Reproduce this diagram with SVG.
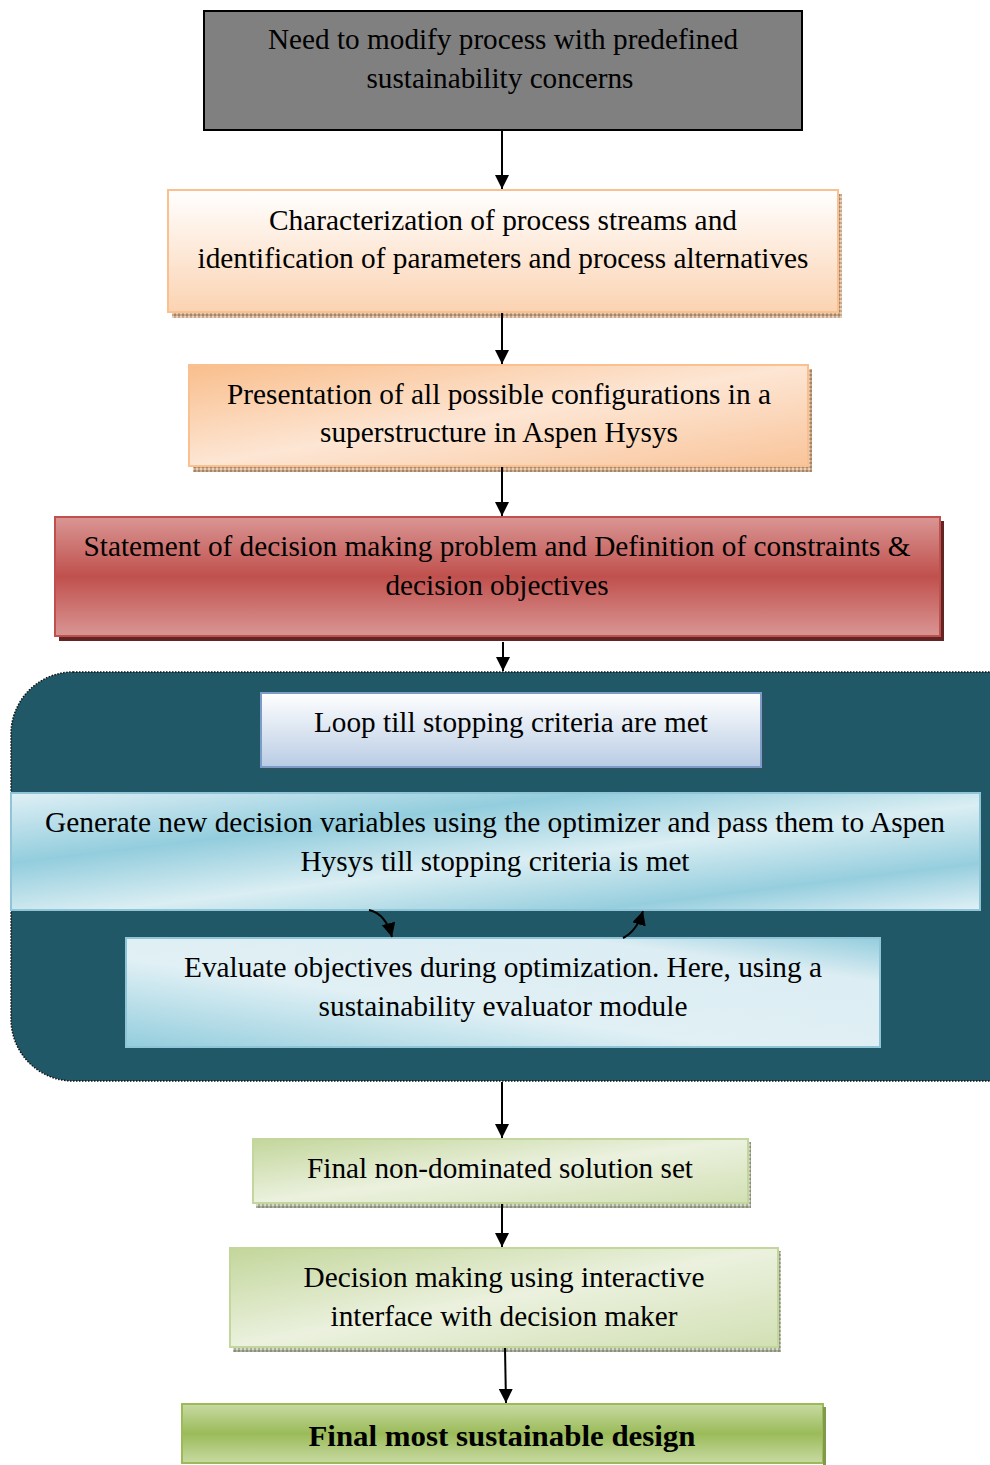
<svg xmlns="http://www.w3.org/2000/svg" width="990" height="1465" viewBox="0 0 990 1465">
<defs>
<style>
text{font-size:29px;fill:#000;text-anchor:middle}
.conn{stroke:#000;stroke-width:2;fill:none}
</style>
<marker id="ah2" viewBox="0 0 10 10" refX="10" refY="5" markerWidth="14" markerHeight="14" markerUnits="userSpaceOnUse" orient="auto"><path d="M0,0 L10,5 L0,10 z" fill="#000"/></marker>
<pattern id="shTan" width="4" height="4" patternUnits="userSpaceOnUse"><rect width="4" height="4" fill="#c9a98a"/><rect width="2" height="2" fill="#e6d0bb"/><rect x="2" y="2" width="2" height="2" fill="#a88466"/></pattern>
<pattern id="shGrn" width="4" height="4" patternUnits="userSpaceOnUse"><rect width="4" height="4" fill="#a9ae9a"/><rect width="2" height="2" fill="#d6dacb"/><rect x="2" y="2" width="2" height="2" fill="#8a8f7c"/></pattern>
<linearGradient id="gPeach1" x1="0" y1="0" x2="0" y2="1"><stop offset="0" stop-color="#ffffff"/><stop offset="1" stop-color="#fbd3b2"/></linearGradient>
<linearGradient id="gPeach2" x1="0" y1="0" x2="1" y2="1"><stop offset="0" stop-color="#f9be8c"/><stop offset="0.5" stop-color="#fde6d4"/><stop offset="1" stop-color="#f9c49a"/></linearGradient>
<linearGradient id="gRed" x1="0" y1="0" x2="0" y2="1"><stop offset="0" stop-color="#d99694"/><stop offset="0.5" stop-color="#c0504d"/><stop offset="1" stop-color="#d99694"/></linearGradient>
<linearGradient id="gLoop" x1="0" y1="0" x2="0" y2="1"><stop offset="0" stop-color="#ffffff"/><stop offset="1" stop-color="#b9cce4"/></linearGradient>
<linearGradient id="gBlue" x1="0" y1="0" x2="1" y2="1"><stop offset="0" stop-color="#e0f0f6"/><stop offset="0.3" stop-color="#93cddd"/><stop offset="0.55" stop-color="#daeef3"/><stop offset="0.8" stop-color="#96cede"/><stop offset="1" stop-color="#e1f1f6"/></linearGradient>
<linearGradient id="gBlue2" x1="0" y1="1" x2="1" y2="0"><stop offset="0" stop-color="#93cddd"/><stop offset="0.4" stop-color="#e0f0f5"/><stop offset="0.8" stop-color="#dcedf3"/><stop offset="1" stop-color="#93cddd"/></linearGradient>
<linearGradient id="gGreen" x1="0" y1="0" x2="1" y2="1"><stop offset="0" stop-color="#c3d69b"/><stop offset="0.5" stop-color="#ebf1de"/><stop offset="1" stop-color="#d2e0b4"/></linearGradient>
<linearGradient id="gGreen2" x1="0" y1="0" x2="0" y2="1"><stop offset="0" stop-color="#c8daa3"/><stop offset="0.5" stop-color="#9bbb59"/><stop offset="1" stop-color="#c8daa3"/></linearGradient>
</defs>

<g font-family="'Liberation Serif', 'Times New Roman', serif">
<g id="n1">
<rect x="204" y="11" width="598" height="119" fill="#808080" stroke="#000" stroke-width="2"/>
<text x="503" y="49" textLength="470" lengthAdjust="spacingAndGlyphs">Need to modify process with predefined</text>
<text x="500" y="88" textLength="267" lengthAdjust="spacingAndGlyphs">sustainability concerns</text>
</g>

<g id="n2">
<rect x="172" y="194" width="670" height="124" fill="url(#shTan)"/>
<rect x="168" y="190" width="670" height="122" fill="url(#gPeach1)" stroke="#fac090" stroke-width="2"/>
<text x="503" y="230" textLength="468" lengthAdjust="spacingAndGlyphs">Characterization of process streams and</text>
<text x="503" y="268" textLength="611" lengthAdjust="spacingAndGlyphs">identification of parameters and process alternatives</text>
</g>

<g id="n3">
<rect x="193" y="369" width="619" height="103" fill="url(#shTan)"/>
<rect x="189" y="365" width="619" height="101" fill="url(#gPeach2)" stroke="#fac090" stroke-width="2"/>
<text x="499" y="404" textLength="544" lengthAdjust="spacingAndGlyphs">Presentation of all possible configurations in a</text>
<text x="499" y="442" textLength="358" lengthAdjust="spacingAndGlyphs">superstructure in Aspen Hysys</text>
</g>

<g id="n4">
<rect x="59" y="521" width="885" height="120" fill="#632523"/>
<rect x="55" y="517" width="885" height="119" fill="url(#gRed)" stroke="#c0504d" stroke-width="2"/>
<text x="497" y="556" textLength="827" lengthAdjust="spacingAndGlyphs">Statement of decision making problem and Definition of constraints &amp;</text>
<text x="497" y="595" textLength="223" lengthAdjust="spacingAndGlyphs">decision objectives</text>
</g>

<g id="loopPanel">
<rect x="11" y="672" width="1040" height="409" rx="62" ry="62" fill="#215868" stroke="#111" stroke-width="1.5" stroke-dasharray="1.5 1.5"/>
</g>

<g id="n5">
<rect x="263" y="695" width="500" height="74" fill="#3a4f5c"/>
<rect x="261" y="693" width="500" height="74" fill="url(#gLoop)" stroke="#7a9cc6" stroke-width="2"/>
<text x="511" y="732" textLength="394" lengthAdjust="spacingAndGlyphs">Loop till stopping criteria are met</text>
</g>

<g id="n6">
<rect x="11" y="793" width="969" height="117" fill="url(#gBlue)" stroke="#8fc5d6" stroke-width="2"/>
<text x="495" y="832" textLength="900" lengthAdjust="spacingAndGlyphs">Generate new decision variables using the optimizer and pass them to Aspen</text>
<text x="495" y="871" textLength="389" lengthAdjust="spacingAndGlyphs">Hysys till stopping criteria is met</text>
</g>

<g id="n7">
<rect x="126" y="938" width="754" height="109" fill="url(#gBlue2)" stroke="#8fc5d6" stroke-width="2"/>
<text x="503" y="977" textLength="638" lengthAdjust="spacingAndGlyphs">Evaluate objectives during optimization. Here, using a</text>
<text x="503" y="1016" textLength="369" lengthAdjust="spacingAndGlyphs">sustainability evaluator module</text>
</g>

<g id="n8">
<rect x="256" y="1142" width="495" height="66" fill="url(#shGrn)"/>
<rect x="253" y="1139" width="495" height="64" fill="url(#gGreen)" stroke="#c3d69b" stroke-width="2"/>
<text x="500" y="1178" textLength="386" lengthAdjust="spacingAndGlyphs">Final non-dominated solution set</text>
</g>

<g id="n9">
<rect x="233" y="1251" width="548" height="101" fill="url(#shGrn)"/>
<rect x="230" y="1248" width="548" height="99" fill="url(#gGreen)" stroke="#c3d69b" stroke-width="2"/>
<text x="504" y="1287" textLength="401" lengthAdjust="spacingAndGlyphs">Decision making using interactive</text>
<text x="504" y="1326" textLength="347" lengthAdjust="spacingAndGlyphs">interface with decision maker</text>
</g>

<g id="n10">
<rect x="182" y="1404" width="641" height="59" fill="url(#gGreen2)" stroke="#9bbb59" stroke-width="2"/>
<rect x="823" y="1407" width="3" height="58" fill="#7f9a48"/>
<text x="502" y="1446" font-weight="bold" textLength="387" lengthAdjust="spacingAndGlyphs">Final most sustainable design</text>
</g>
</g>

<g id="connectors">
<line class="conn" x1="502" y1="131" x2="502" y2="189" marker-end="url(#ah2)"/>
<line class="conn" x1="502" y1="313" x2="502" y2="364" marker-end="url(#ah2)"/>
<line class="conn" x1="502" y1="467" x2="502" y2="516" marker-end="url(#ah2)"/>
<line class="conn" x1="503" y1="642" x2="503" y2="671" marker-end="url(#ah2)"/>
<path class="conn" d="M369,910 Q386,914 392,937" marker-end="url(#ah2)"/>
<path class="conn" d="M623,938 Q637,931 643,911" marker-end="url(#ah2)"/>
<line class="conn" x1="502" y1="1082" x2="502" y2="1138" marker-end="url(#ah2)"/>
<line class="conn" x1="502" y1="1204" x2="502" y2="1247" marker-end="url(#ah2)"/>
<line class="conn" x1="505" y1="1348" x2="506" y2="1403" marker-end="url(#ah2)"/>
</g>
</svg>
